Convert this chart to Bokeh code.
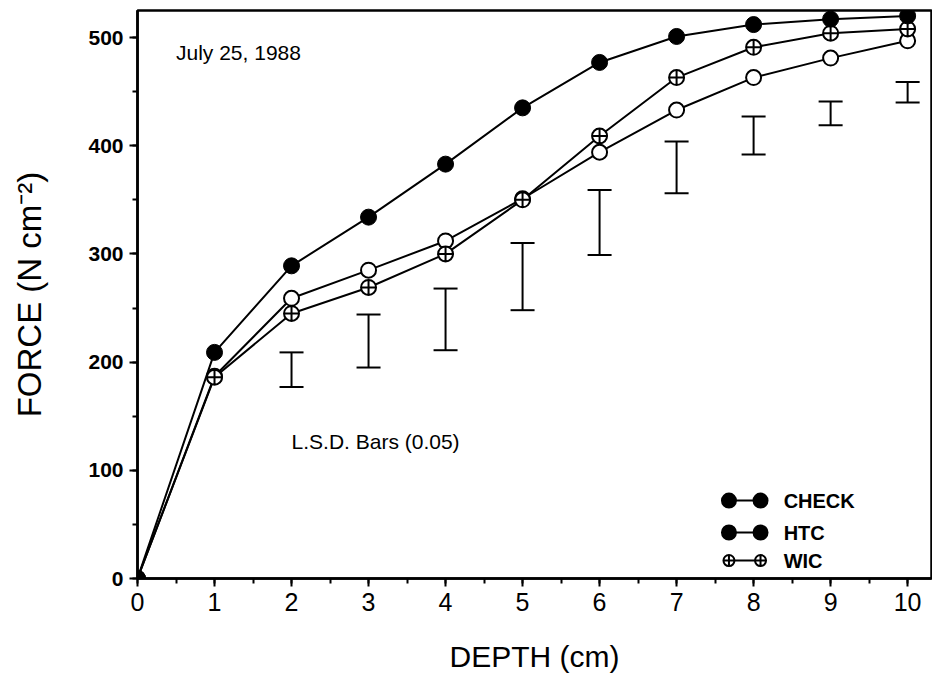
from bokeh.plotting import figure
from bokeh.models import Range1d, Whisker, ColumnDataSource, Label, FixedTicker, TeeHead
from bokeh.embed import file_html
from bokeh.resources import INLINE
from bokeh.core.properties import value

depth = [0, 1, 2, 3, 4, 5, 6, 7, 8, 9, 10]
check = [0, 209, 289, 334, 383, 435, 477, 501, 512, 517, 520]
htc = [0, 187, 259, 285, 312, 351, 394, 433, 463, 481, 497]
wic = [0, 186, 245, 269, 300, 350, 409, 463, 491, 504, 508]

lsd_depth = [2, 3, 4, 5, 6, 7, 8, 9, 10]
lsd_low = [177, 195, 211, 248, 299, 356, 392, 419, 440]
lsd_high = [209, 244, 268, 310, 359, 404, 427, 441, 459]

legend_names = ["CHECK", "HTC", "WIC"]

FONT = "Liberation Sans"

p = figure(width=932, height=676, output_backend="svg", toolbar_location=None,
           x_range=Range1d(0, 10.31), y_range=Range1d(0, 525),
           min_border_left=137, min_border_right=1, min_border_top=10, min_border_bottom=98)
p.background_fill_color = "white"
p.border_fill_color = "white"
p.grid.visible = False
p.outline_line_color = "black"
p.outline_line_width = 2.5

# axes
p.xaxis.ticker = FixedTicker(ticks=list(range(0, 11)), minor_ticks=[i * 0.5 for i in range(0, 21)])
p.yaxis.ticker = FixedTicker(ticks=list(range(0, 501, 100)), minor_ticks=list(range(0, 526, 50)))
for ax in (p.xaxis[0], p.yaxis[0]):
    ax.axis_line_width = 2.5
    ax.axis_line_color = "black"
    ax.major_tick_line_width = 2
    ax.minor_tick_line_width = 2
    ax.major_tick_in = 0
    ax.minor_tick_in = 0
    ax.major_tick_out = 8
    ax.minor_tick_out = 5
    ax.major_label_text_font = FONT
    ax.axis_label_text_font = FONT
    ax.axis_label_text_font_style = "normal"
    ax.axis_label_text_color = "black"
    ax.major_label_text_color = "black"

p.xaxis.major_label_text_font_size = "25px"
p.xaxis.major_label_standoff = 6
p.xaxis.axis_label = "DEPTH (cm)"
p.xaxis.axis_label_text_font_size = "30px"
p.xaxis.axis_label_standoff = 26

p.yaxis.major_label_text_font_size = "21px"
p.yaxis.major_label_text_font_style = "bold"
p.yaxis.major_label_standoff = 6
p.yaxis.axis_label = "FORCE (N cm\u207b\u00b2)"
p.yaxis.axis_label_text_font_size = "33px"
p.yaxis.axis_label_standoff = 37

# LSD bars
src_lsd = ColumnDataSource(dict(base=lsd_depth, lower=lsd_low, upper=lsd_high))
w = Whisker(base="base", lower="lower", upper="upper", source=src_lsd,
            line_color="black", line_width=2,
            upper_head=TeeHead(size=24, line_width=2, line_color="black"),
            lower_head=TeeHead(size=24, line_width=2, line_color="black"))
p.add_layout(w)

# series
p.line(depth, check, line_color="black", line_width=2)
p.line(depth, htc, line_color="black", line_width=2)
p.line(depth, wic, line_color="black", line_width=2)
p.scatter(depth, htc, marker="circle", size=15, fill_color="white", line_color="black", line_width=2)
p.scatter(depth, wic, marker="circle_cross", size=15, fill_color="white", line_color="black", line_width=2)
p.scatter(depth, check, marker="circle", size=16, fill_color="black", line_color="black")

# annotations
p.add_layout(Label(x=0.5, y=486, text="July 25, 1988", text_font=FONT, text_font_size="21px",
                   text_baseline="middle", text_color="black"))
p.add_layout(Label(x=2.0, y=127, text="L.S.D. Bars (0.05)", text_font=FONT, text_font_size="21px",
                   text_baseline="middle", text_color="black"))

# manual legend (layout positions)
leg_x0, leg_x1, leg_tx = 7.68, 8.09, 8.39
leg_ys = [72, 42.5, 16.6]
leg_fill = ["black", "black", "white"]
leg_marker = ["circle", "circle", "circle_cross"]
leg_size = [14, 14, 11]
for name, ly, fc, mk, sz in zip(legend_names, leg_ys, leg_fill, leg_marker, leg_size):
    p.segment(x0=[leg_x0], y0=[ly], x1=[leg_x1], y1=[ly], line_color="black", line_width=2)
    p.scatter([leg_x0, leg_x1], [ly, ly], marker=mk, size=sz, fill_color=fc, line_color="black", line_width=2)
    p.text(x=[leg_tx], y=[ly], text=[name], text_font=value(FONT), text_font_size="20px",
           text_font_style="bold", text_baseline="middle", text_color="black")

open("out.html", "w").write(file_html(p, INLINE))
